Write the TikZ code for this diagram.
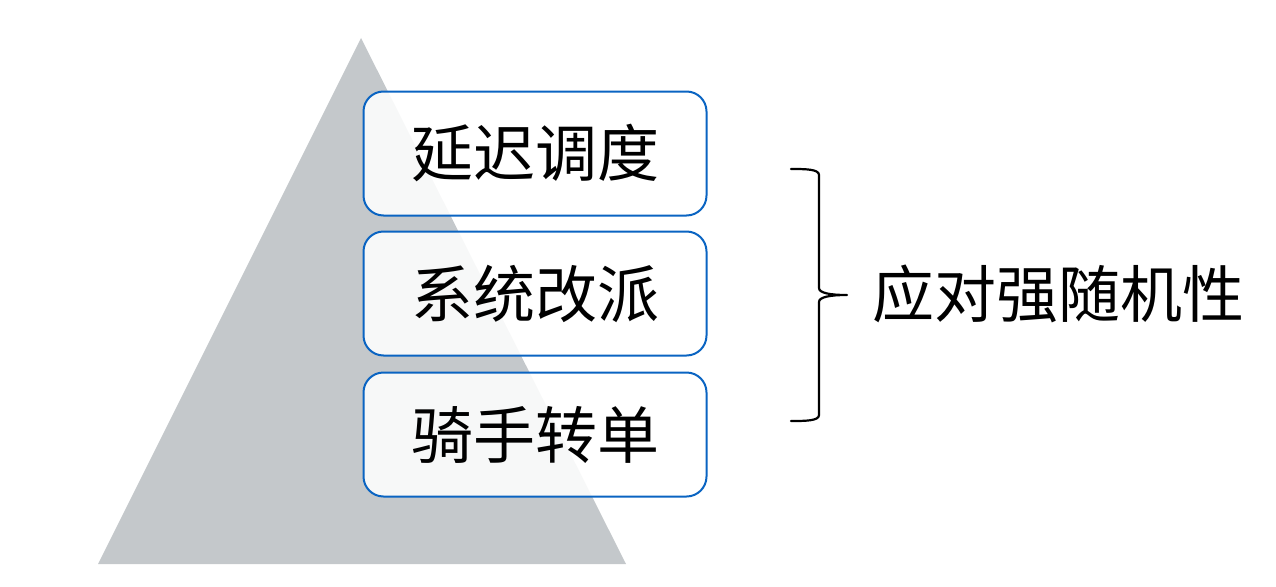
\documentclass[tikz,border=0pt]{standalone}
\usepackage{fontspec}
\newfontfamily\cjk{Noto Sans CJK SC}
\definecolor{tri}{HTML}{C4C8CB}
\definecolor{edge}{HTML}{0A64C2}
\newcommand{\uptext}[1]{\raisebox{3pt}{#1}}
\begin{document}
\begin{tikzpicture}[x=1pt,y=-1pt,
  lvl/.style={draw=edge, line width=2pt, rounded corners=20pt, fill=white, fill opacity=0.88, text opacity=1,
    minimum width=343pt, minimum height=124pt, inner sep=0pt, font=\cjk\fontsize{62}{62}\selectfont},
  lbl/.style={inner sep=0pt, font=\cjk\fontsize{62}{62}\selectfont}]
\useasboundingbox (0,0) rectangle (1276,586);
\fill[tri] (361,38) -- (626,564) -- (98,564) -- cycle;
\node[lvl] (b1) at (535,153.5) {\uptext{延迟调度}};
\node[lvl] (b2) at (535,293.5) {\uptext{系统改派}};
\node[lvl] (b3) at (535,434.5) {\uptext{骑手转单}};
\coordinate (bt) at (791,169);
\coordinate (bb) at (791,421);
\coordinate (tip) at (847,295);
\draw[line width=2.2pt, line cap=round, line join=round]
  (bt) .. controls (805,169) and (819,169) .. (819,175) -- (819,288)
  .. controls (819,293) and (830,295) .. (tip)
  (tip) .. controls (830,295) and (819,297) .. (819,302) -- (819,415)
  .. controls (819,421) and (805,421) .. (bb);
\node[lbl, anchor=west] (res) at (872,294) {应对强随机性};
\end{tikzpicture}
\end{document}
